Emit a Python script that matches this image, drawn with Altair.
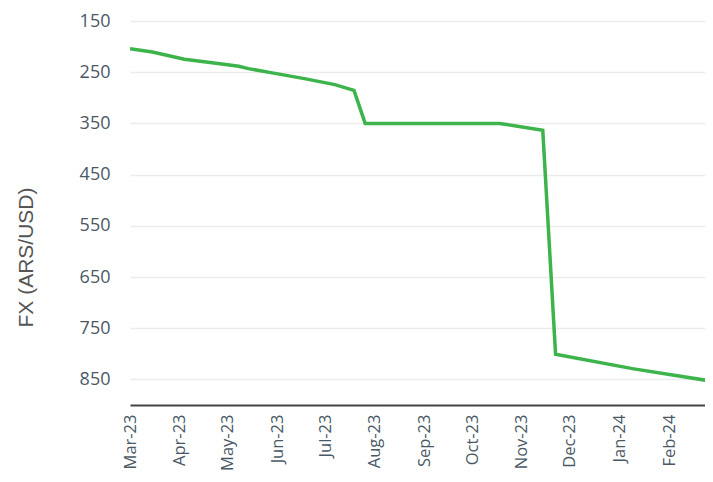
import altair as alt
import pandas as pd

dates = ["2023-03-01", "2023-03-15", "2023-04-04", "2023-04-25", "2023-05-08",
         "2023-05-14", "2023-05-28", "2023-06-18", "2023-07-07", "2023-07-19",
         "2023-07-26", "2023-10-18", "2023-11-14", "2023-11-22", "2024-01-09",
         "2024-02-28", "2024-03-01"]
fx = [204.0, 210.5, 224.8, 233.0, 238.5,
      243.0, 250.8, 262.5, 274.2, 285.4,
      350.0, 350.0, 363.5, 801.0, 829.0,
      853.7, 855.5]

y_ticks = [150, 250, 350, 450, 550, 650, 750, 850]
month_ticks = [(2023, m) for m in range(3, 13)] + [(2024, 1), (2024, 2), (2024, 3)]

df = pd.DataFrame({"date": [d + "T00:00:00" for d in dates], "fx": fx})

x_values = [alt.DateTime(year=y, month=m, date=1) for y, m in month_ticks]

chart = alt.Chart(df).mark_line(
    color="#3db34b", strokeWidth=3.5, clip=True, strokeJoin="miter"
).encode(
    x=alt.X("date:T",
            scale=alt.Scale(domain=[alt.DateTime(year=2023, month=3, date=1),
                                    alt.DateTime(year=2024, month=2, date=23,
                                                 hours=9, minutes=36)]),
            axis=alt.Axis(values=x_values, format="%b-%y", title=None,
                          labelAngle=270, labelPadding=9, ticks=False,
                          grid=False, domain=True, domainColor="#444444",
                          domainWidth=2, labelFont="Open Sans", labelFontSize=16.5,
                          labelColor="#4a5866", labelOverlap=False)),
    y=alt.Y("fx:Q",
            scale=alt.Scale(domain=[150, 900], reverse=True, nice=False, zero=False),
            axis=alt.Axis(values=y_ticks, title="FX (ARS/USD)", domain=False,
                          ticks=False, grid=True, gridColor="#ececec", gridWidth=1.5,
                          labelPadding=20, labelFont="Open Sans", labelFontSize=18,
                          labelColor="#4a5866", titleFont="Liberation Sans",
                          titleFontSize=21, titleFontWeight="normal",
                          titleColor="#555555", titleAngle=270, titleX=-104,
                          titleY=236, titleBaseline="middle", titleAlign="center")),
).properties(
    width=575, height=384,
    autosize=alt.AutoSizeParams(type="none"),
    padding={"left": 122, "top": 13, "right": 0, "bottom": 66},
).configure_view(stroke=None)

chart.save("out.html", embed_options={"renderer": "svg", "actions": False})
